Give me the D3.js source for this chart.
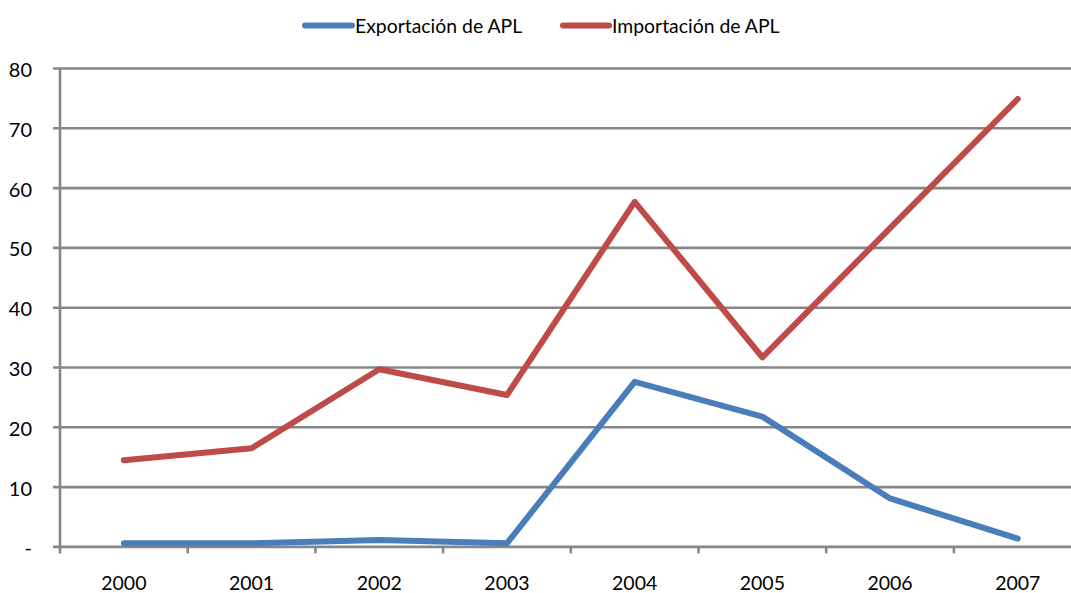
<!DOCTYPE html>
<html>
<head>
<meta charset="utf-8">
<script src="https://cdn.jsdelivr.net/npm/d3@7"></script>
<style>
  html, body { margin: 0; padding: 0; background: #fff; }
  svg { display: block; }
  text { font-family: "Lato", "Open Sans", sans-serif; fill: #000; }
</style>
</head>
<body>
<svg id="chart" width="1071" height="593"></svg>
<script>
const years = ["2000", "2001", "2002", "2003", "2004", "2005", "2006", "2007"];
const exportacion = [0.6, 0.6, 1.15, 0.6, 27.6, 21.8, 8.1, 1.4];
const importacion = [14.5, 16.5, 29.7, 25.4, 57.7, 31.7, 53.3, 74.9];
const yTicks = [0, 10, 20, 30, 40, 50, 60, 70, 80];
const seriesNames = ["Exportación de APL", "Importación de APL"];
const seriesColors = ["#4A7EBB", "#BE4B48"];

(function () {
const svg = d3.select("#chart");
const pLeft = 60, pRight = 1081.6, pTop = 68.5, pBottom = 546.9;
const axisFont = 20;
const xFont = 19.5;
const legendFont = 19.4;

const x = d3.scaleBand().domain(years).range([pLeft, pRight]).paddingInner(0).paddingOuter(0);
const y = d3.scaleLinear().domain([0, 80]).range([pBottom, pTop]);

const gridColor = "#878787";

// gridlines
svg.append("g").selectAll("line").data(yTicks).join("line")
  .attr("x1", pLeft - 7).attr("x2", 1075)
  .attr("y1", d => y(d)).attr("y2", d => y(d))
  .attr("stroke", gridColor).attr("stroke-width", 2.6);

// y axis
const yAxis = d3.axisLeft(y).tickValues(yTicks).tickSize(0).tickPadding(28)
  .tickFormat(d => d === 0 ? "-" : d);
const gy = svg.append("g").attr("transform", `translate(${pLeft},1.5)`).call(yAxis);
gy.select(".domain").remove();
gy.selectAll("text").attr("font-size", axisFont).attr("font-family", "Lato").attr("fill", "#000");

// vertical axis line
svg.append("line").attr("x1", pLeft).attr("x2", pLeft).attr("y1", pTop - 1).attr("y2", pBottom + 6.5)
  .attr("stroke", gridColor).attr("stroke-width", 2.6);

// x axis ticks at band boundaries
const boundaries = years.slice(1).map(d => x(d));
svg.append("g").selectAll("line").data(boundaries).join("line")
  .attr("x1", d => d).attr("x2", d => d)
  .attr("y1", pBottom).attr("y2", pBottom + 6.5)
  .attr("stroke", gridColor).attr("stroke-width", 2.6);

// x axis labels
const xAxis = d3.axisBottom(x).tickSize(0).tickPadding(29);
const gx = svg.append("g").attr("transform", `translate(0,${pBottom})`).call(xAxis);
gx.select(".domain").remove();
gx.selectAll("text").attr("font-size", xFont).attr("font-family", "Lato").attr("fill", "#000");

// lines
const line = d3.line().x((d, i) => x(years[i]) + x.bandwidth() / 2).y(d => y(d));
[exportacion, importacion].forEach((s, i) => {
  svg.append("path").datum(s)
    .attr("d", line)
    .attr("fill", "none")
    .attr("stroke", seriesColors[i])
    .attr("stroke-width", 6)
    .attr("stroke-linejoin", "round")
    .attr("stroke-linecap", "round");
});

// legend
const legendItems = [{x1: 305, x2: 352, tx: 355}, {x1: 563, x2: 609, tx: 612}];
const lg = svg.append("g");
seriesNames.forEach((name, i) => {
  const it = legendItems[i];
  lg.append("line").attr("x1", it.x1).attr("x2", it.x2).attr("y1", 25.5).attr("y2", 25.5)
    .attr("stroke", seriesColors[i]).attr("stroke-width", 6).attr("stroke-linecap", "round");
  lg.append("text").attr("x", it.tx).attr("y", 32.5).attr("font-size", legendFont).text(name);
});
})();
</script>
</body>
</html>
